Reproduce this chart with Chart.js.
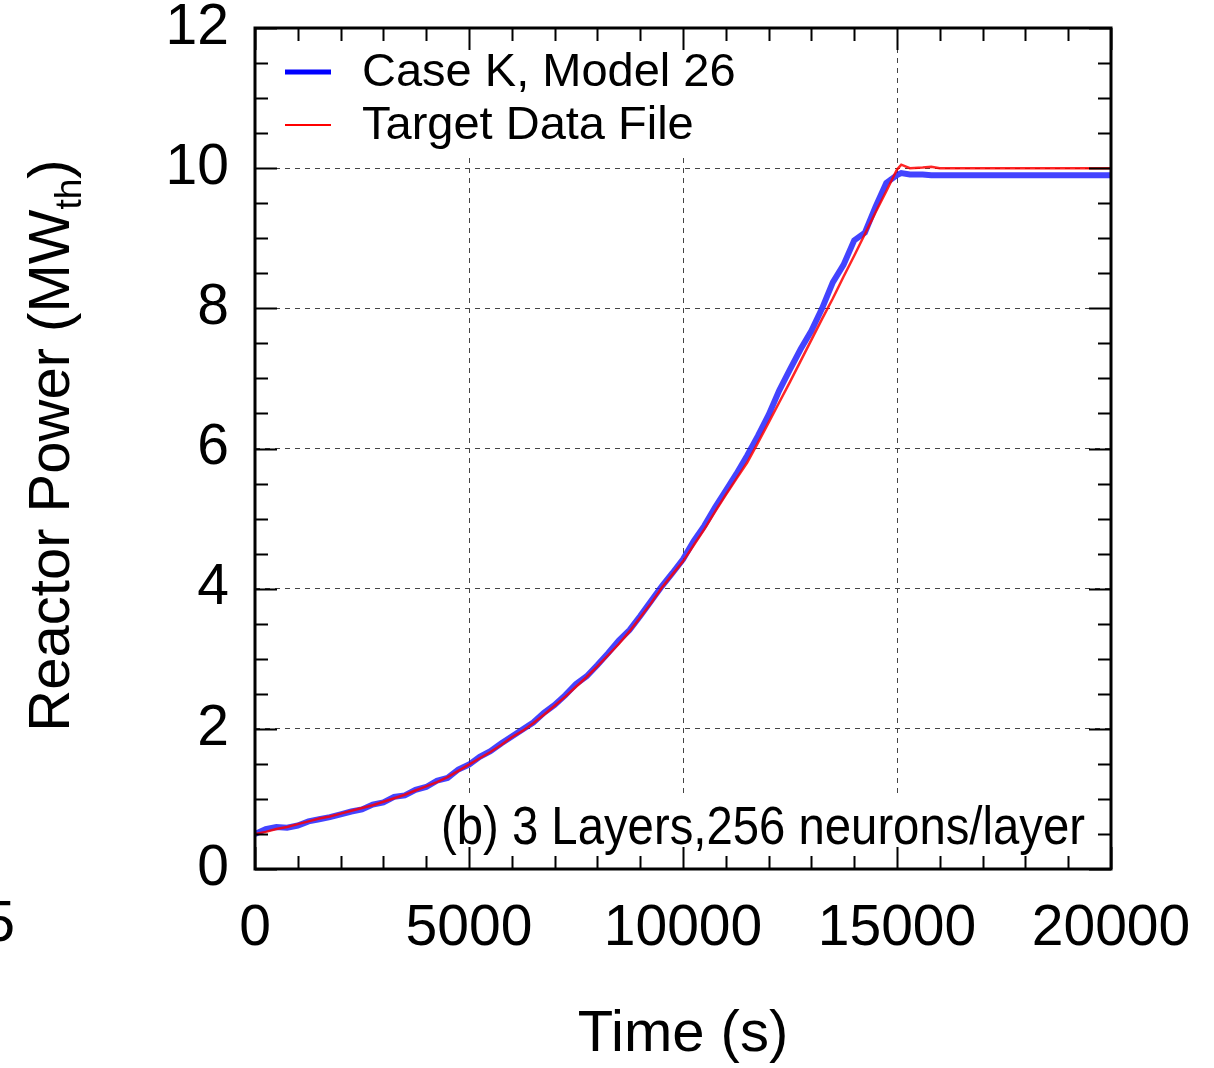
<!DOCTYPE html>
<html>
<head>
<meta charset="utf-8">
<script src="https://cdn.jsdelivr.net/npm/chart.js@4.4.1/dist/chart.umd.min.js"></script>
<style>
  body { margin: 0; background: #fff; }
  #wrap { width: 1214px; height: 1068px; }
</style>
</head>
<body>
<div id="wrap"><canvas id="powerChart" width="1214" height="1068"></canvas></div>
<script>
// time axis (s)
const timeS = [0, 250, 500, 750, 1000, 1250, 1500, 1750, 2000, 2250, 2500, 2750, 3000, 3250, 3500, 3750,
	4000, 4250, 4500, 4750, 5000, 5250, 5500, 5750, 6000, 6250, 6500, 6750, 7000, 7250, 7500, 7750,
	8000, 8250, 8500, 8750, 9000, 9250, 9500, 9750, 10000, 10250, 10500, 10750, 11000, 11250, 11500, 11750,
	12000, 12250, 12500, 12750, 13000, 13250, 13500, 13750, 14000, 14250, 14500, 14750, 15000,
	15100, 15300, 15600, 15800, 16000, 17000, 18000, 19000, 20000];

// Case K, Model 26 (MWth)
const caseK = [0.50, 0.57, 0.60, 0.59, 0.62, 0.68, 0.71, 0.74, 0.78, 0.82, 0.85, 0.92, 0.95, 1.03, 1.05, 1.13,
	1.17, 1.26, 1.30, 1.42, 1.49, 1.60, 1.68, 1.79, 1.89, 1.99, 2.09, 2.23, 2.34, 2.48, 2.64, 2.75,
	2.91, 3.08, 3.26, 3.41, 3.61, 3.82, 4.03, 4.22, 4.42, 4.68, 4.90, 5.16, 5.40, 5.64, 5.90, 6.18,
	6.48, 6.83, 7.13, 7.42, 7.68, 8.00, 8.37, 8.62, 8.97, 9.08, 9.45, 9.79, 9.90,
	9.93, 9.91, 9.91, 9.90, 9.90, 9.90, 9.90, 9.90, 9.90];

// Target Data File (MWth)
const target = [0.50, 0.53, 0.57, 0.60, 0.64, 0.68, 0.72, 0.75, 0.79, 0.83, 0.87, 0.91, 0.96, 1.01, 1.06, 1.12,
	1.18, 1.24, 1.31, 1.40, 1.49, 1.58, 1.67, 1.77, 1.88, 1.97, 2.08, 2.20, 2.33, 2.46, 2.60, 2.74,
	2.89, 3.05, 3.21, 3.39, 3.59, 3.79, 4.01, 4.20, 4.39, 4.62, 4.85, 5.10, 5.34, 5.57, 5.80, 6.08,
	6.37, 6.66, 6.95, 7.25, 7.55, 7.85, 8.14, 8.45, 8.75, 9.06, 9.37, 9.67, 9.98,
	10.05, 10.00, 10.01, 10.02, 10.00, 10.00, 10.00, 10.00, 10.00];

const seriesNames = ['Case K, Model 26', 'Target Data File'];
const xRange = [0, 20000];
const yRange = [0, 12];
const xMajor = 5000, xMinor = 1000;
const yMajor = 2, yMinor = 0.5;
const panelNote = '(b) 3 Layers,256 neurons/layer';

const FONT = '"Liberation Sans", Arial, sans-serif';

function pts(ys) {
	return timeS.map((t, i) => ({ x: t, y: ys[i] }));
}

const decor = {
	id: 'decor',
	afterDatasetsDraw(chart) {
		const ctx = chart.ctx;
		const a = chart.chartArea;
		const xs = chart.scales.x, ys = chart.scales.y;
		ctx.save();
		// white boxes behind legend and note
		ctx.fillStyle = '#fff';
		ctx.fillRect(a.left + 2, a.top + 2, 495, 125);
		ctx.fillRect(430, 795, a.right - 430 - 1, a.bottom - 795);

		ctx.strokeStyle = '#000';
		ctx.lineWidth = 2;
		// inner ticks on all four sides
		for (let v = xRange[0]; v <= xRange[1]; v += xMinor) {
			const px = Math.round(xs.getPixelForValue(v)) + 0.5;
			const len = v % xMajor === 0 ? 22 : 13;
			ctx.beginPath();
			ctx.moveTo(px, a.bottom); ctx.lineTo(px, a.bottom - len);
			ctx.moveTo(px, a.top); ctx.lineTo(px, a.top + len);
			ctx.stroke();
		}
		for (let v = yRange[0]; v <= yRange[1] + 1e-9; v += yMinor) {
			const py = Math.round(ys.getPixelForValue(v)) + 0.5;
			const len = Math.abs(v / yMajor - Math.round(v / yMajor)) < 1e-6 ? 22 : 13;
			ctx.beginPath();
			ctx.moveTo(a.left, py); ctx.lineTo(a.left + len, py);
			ctx.moveTo(a.right, py); ctx.lineTo(a.right - len, py);
			ctx.stroke();
		}
		// frame
		ctx.lineWidth = 3;
		ctx.strokeRect(a.left, a.top, a.right - a.left, a.bottom - a.top);

		// legend
		const ds = chart.data.datasets;
		const rows = [72, 125];
		ctx.font = '47px ' + FONT;
		ctx.textBaseline = 'middle';
		ctx.textAlign = 'left';
		ds.forEach((d, i) => {
			ctx.beginPath();
			ctx.strokeStyle = d.legendColor;
			ctx.lineWidth = i === 0 ? 5 : 2;
			ctx.moveTo(285, rows[i]); ctx.lineTo(331, rows[i]);
			ctx.stroke();
			ctx.fillStyle = '#000';
			ctx.fillText(d.label, 362, rows[i] + 1);
		});

		// panel note, condensed to the width it has in the figure
		ctx.font = '53px ' + FONT;
		const nw = ctx.measureText(panelNote).width;
		ctx.translate(1085, 844);
		ctx.scale(644 / nw, 1);
		ctx.textAlign = 'right';
		ctx.textBaseline = 'alphabetic';
		ctx.fillText(panelNote, 0, 0);
		ctx.restore();
	},
	afterDraw(chart) {
		const ctx = chart.ctx;
		const a = chart.chartArea;
		ctx.save();
		ctx.fillStyle = '#000';
		// x title
		ctx.font = '58px ' + FONT;
		ctx.textAlign = 'center';
		ctx.textBaseline = 'middle';
		ctx.fillText('Time (s)', (a.left + a.right) / 2, 1035);
		// y title with subscript
		ctx.translate(48, (a.top + a.bottom) / 2 - 3);
		ctx.rotate(-Math.PI / 2);
		const main = 'Reactor Power (MW';
		ctx.font = '58px ' + FONT;
		const w1 = ctx.measureText(main).width;
		ctx.font = '37px ' + FONT;
		const w2 = ctx.measureText('th').width;
		ctx.font = '58px ' + FONT;
		const w3 = ctx.measureText(')').width;
		let x0 = -(w1 + w2 + w3) / 2;
		ctx.textAlign = 'left';
		ctx.textBaseline = 'alphabetic';
		ctx.fillText(main, x0, 21);
		ctx.font = '37px ' + FONT;
		ctx.fillText('th', x0 + w1, 33);
		ctx.font = '58px ' + FONT;
		ctx.fillText(')', x0 + w1 + w2, 21);
		ctx.restore();
		// cut-off label from the neighbouring panel
		ctx.save();
		ctx.font = '57px ' + FONT;
		ctx.textAlign = 'right';
		ctx.textBaseline = 'middle';
		ctx.fillStyle = '#000';
		ctx.fillText('5', 15, 925);
		ctx.restore();
	}
};

new Chart(document.getElementById('powerChart'), {
	type: 'line',
	data: {
		datasets: [{
			label: seriesNames[0],
			data: pts(caseK),
			borderColor: 'rgba(20,20,255,0.8)',
			legendColor: '#0000ff',
			borderWidth: 6,
			pointRadius: 0,
			order: 2
		},
		{
			label: seriesNames[1],
			data: pts(target),
			borderColor: 'rgba(255,0,0,0.85)',
			legendColor: '#ff0000',
			borderWidth: 2.5,
			pointRadius: 0,
			order: 1
		}]
	},
	plugins: [decor],
	options: {
		responsive: false,
		animation: false,
		layout: { padding: { top: 28, right: 103, left: 0, bottom: 0 } },
		plugins: { legend: { display: false }, tooltip: { enabled: false } },
		scales: {
			x: {
				type: 'linear',
				min: xRange[0], max: xRange[1],
				afterFit(s) { s.height = 199; s.paddingLeft = 0; s.paddingRight = 0; },
				border: { display: false, dash: [5, 5] },
				grid: { color: '#444', lineWidth: 1, drawTicks: false },
				ticks: {
					stepSize: xMajor,
					padding: 26,
					color: '#000',
					font: { family: FONT, size: 57 },
					maxRotation: 0,
					callback: v => String(v)
				}
			},
			y: {
				min: yRange[0], max: yRange[1],
				afterFit(s) { s.width = 255; s.paddingTop = 0; s.paddingBottom = 0; },
				border: { display: false, dash: [5, 5] },
				grid: { color: '#444', lineWidth: 1, drawTicks: false },
				ticks: {
					stepSize: yMajor,
					padding: 26,
					color: '#000',
					font: { family: FONT, size: 57 },
					callback: v => String(v)
				}
			}
		}
	}
});
</script>
</body>
</html>
